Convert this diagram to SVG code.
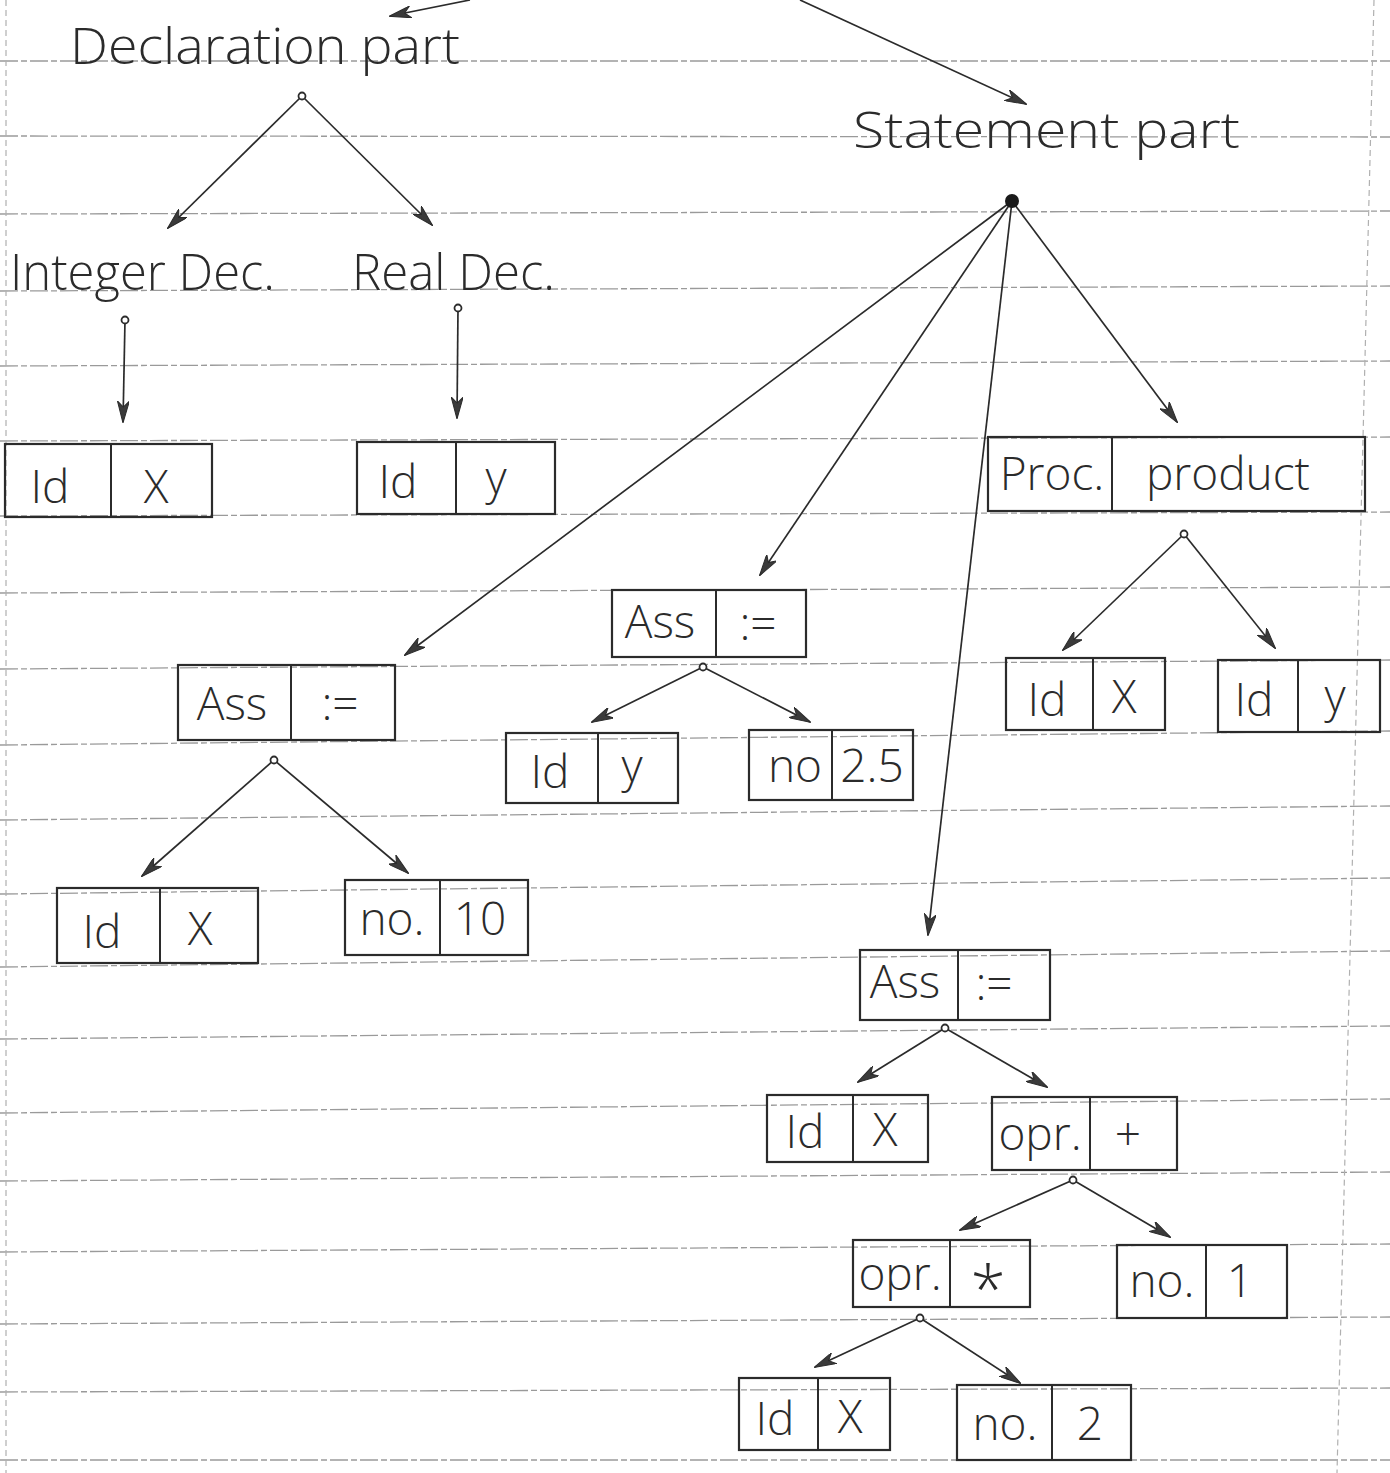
<svg xmlns="http://www.w3.org/2000/svg" width="1390" height="1473" viewBox="0 0 1390 1473">
<defs>
<style>
.rule{stroke:#9a9a9a;stroke-width:1.3;stroke-dasharray:18 3 6 3;fill:none}
.margin{stroke:#b0b0b0;stroke-width:1.2;stroke-dasharray:6 4;fill:none}
.box{fill:none;stroke:#2b2b2b;stroke-width:2.2}
.div{stroke:#2b2b2b;stroke-width:2}
.t{font-family:"Open Sans","Liberation Sans",sans-serif;font-weight:300;fill:#2b2b2b;font-size:46px;text-anchor:middle}
.big{font-family:"Open Sans","Liberation Sans",sans-serif;font-weight:300;fill:#2b2b2b;font-size:50px}
.e{stroke:#2b2b2b;stroke-width:1.7;fill:none;marker-end:url(#ah)}
.dot{fill:#fff;stroke:#2b2b2b;stroke-width:1.8}
</style>
<marker id="ah" viewBox="0 0 22 12" refX="21" refY="6" markerWidth="22" markerHeight="12" markerUnits="userSpaceOnUse" orient="auto">
<path d="M0,0 L22,6 L0,12 L6,6 Z" fill="#3a3a3a" stroke="#2b2b2b" stroke-width="1"/>
</marker>
</defs>
<rect width="1390" height="1473" fill="#ffffff"/>
<g id="paper">
<line class="rule" x1="0" y1="61" x2="1390" y2="61"/>
<line class="rule" x1="0" y1="136" x2="1390" y2="137"/>
<line class="rule" x1="0" y1="214" x2="1390" y2="211"/>
<line class="rule" x1="0" y1="291" x2="1390" y2="286"/>
<line class="rule" x1="0" y1="366" x2="1390" y2="361"/>
<line class="rule" x1="0" y1="441" x2="1390" y2="437"/>
<line class="rule" x1="0" y1="516" x2="1390" y2="512"/>
<line class="rule" x1="0" y1="593" x2="1390" y2="587"/>
<line class="rule" x1="0" y1="669" x2="1390" y2="660"/>
<line class="rule" x1="0" y1="745" x2="1390" y2="731"/>
<line class="rule" x1="0" y1="820" x2="1390" y2="806"/>
<line class="rule" x1="0" y1="894" x2="1390" y2="878"/>
<line class="rule" x1="0" y1="967" x2="1390" y2="951"/>
<line class="rule" x1="0" y1="1039" x2="1390" y2="1026"/>
<line class="rule" x1="0" y1="1113" x2="1390" y2="1099"/>
<line class="rule" x1="0" y1="1181" x2="1390" y2="1172"/>
<line class="rule" x1="0" y1="1252" x2="1390" y2="1244"/>
<line class="rule" x1="0" y1="1324" x2="1390" y2="1317"/>
<line class="rule" x1="0" y1="1392" x2="1390" y2="1388"/>
<line class="rule" x1="0" y1="1460" x2="1390" y2="1460"/>
<line class="margin" x1="6" y1="0" x2="6" y2="1473"/>
<line class="margin" x1="1374" y1="0" x2="1337" y2="1473"/>
</g>
<g id="connectors">
<line class="e" x1="470" y1="0" x2="390" y2="16"/>
<line class="e" x1="800" y1="0" x2="1026" y2="104"/>
<line class="e" x1="302" y1="96" x2="168" y2="228"/>
<line class="e" x1="302" y1="96" x2="432" y2="225"/>
<line class="e" x1="125" y1="320" x2="123" y2="422"/>
<line class="e" x1="458" y1="308" x2="457" y2="418"/>
<line class="e" x1="1012" y1="201" x2="405" y2="655"/>
<line class="e" x1="1012" y1="201" x2="760" y2="575"/>
<line class="e" x1="1012" y1="201" x2="928" y2="935"/>
<line class="e" x1="1012" y1="201" x2="1177" y2="422"/>
<line class="e" x1="1184" y1="534" x2="1063" y2="650"/>
<line class="e" x1="1184" y1="534" x2="1275" y2="648"/>
<line class="e" x1="274" y1="760" x2="142" y2="876"/>
<line class="e" x1="274" y1="760" x2="408" y2="873"/>
<line class="e" x1="703" y1="667" x2="592" y2="722"/>
<line class="e" x1="703" y1="667" x2="810" y2="722"/>
<line class="e" x1="945" y1="1028" x2="858" y2="1082"/>
<line class="e" x1="945" y1="1028" x2="1047" y2="1087"/>
<line class="e" x1="1073" y1="1180" x2="960" y2="1230"/>
<line class="e" x1="1073" y1="1180" x2="1170" y2="1237"/>
<line class="e" x1="920" y1="1318" x2="815" y2="1367"/>
<line class="e" x1="920" y1="1318" x2="1020" y2="1383"/>
<circle class="dot" cx="302" cy="96" r="3.5"/>
<circle class="dot" cx="125" cy="320" r="3.5"/>
<circle class="dot" cx="458" cy="308" r="3.5"/>
<circle cx="1012" cy="201" r="7" fill="#1a1a1a"/>
<circle class="dot" cx="1184" cy="534" r="3.5"/>
<circle class="dot" cx="274" cy="760" r="3.5"/>
<circle class="dot" cx="703" cy="667" r="3.5"/>
<circle class="dot" cx="945" cy="1028" r="3.5"/>
<circle class="dot" cx="1073" cy="1180" r="3.5"/>
<circle class="dot" cx="920" cy="1318" r="3.5"/>
</g>
<g id="declaration-part"><text class="big" x="70" y="64" textLength="390" lengthAdjust="spacingAndGlyphs">Declaration part</text></g>
<g id="statement-part"><text class="big" x="853" y="148" textLength="387" lengthAdjust="spacingAndGlyphs">Statement part</text></g>
<g id="integer-dec"><text class="big" x="10" y="290" textLength="265" lengthAdjust="spacingAndGlyphs">Integer Dec.</text></g>
<g id="real-dec"><text class="big" x="352" y="290" textLength="203" lengthAdjust="spacingAndGlyphs">Real Dec.</text></g>
<g id="id-x-1"><rect class="box" x="5" y="444" width="207" height="73"/><line class="div" x1="111" y1="444" x2="111" y2="517"/><text class="t" x="50" y="503">Id</text><text class="t" x="156" y="503">X</text></g>
<g id="id-y-1"><rect class="box" x="357" y="442" width="198" height="72"/><line class="div" x1="456" y1="442" x2="456" y2="514"/><text class="t" x="398" y="498">Id</text><text class="t" x="496" y="494">y</text></g>
<g id="proc-product"><rect class="box" x="988" y="437" width="377" height="74"/><line class="div" x1="1112" y1="437" x2="1112" y2="511"/><text class="t" x="1052" y="490">Proc.</text><text class="t" x="1228" y="490">product</text></g>
<g id="ass-1"><rect class="box" x="178" y="665" width="217" height="75"/><line class="div" x1="291" y1="665" x2="291" y2="740"/><text class="t" x="232" y="720">Ass</text><text class="t" x="340" y="720">:=</text></g>
<g id="id-x-2"><rect class="box" x="57" y="888" width="201" height="75"/><line class="div" x1="160" y1="888" x2="160" y2="963"/><text class="t" x="102" y="948">Id</text><text class="t" x="200" y="945">X</text></g>
<g id="no-10"><rect class="box" x="345" y="880" width="183" height="75"/><line class="div" x1="440" y1="880" x2="440" y2="955"/><text class="t" x="392" y="935">no.</text><text class="t" x="480" y="935">10</text></g>
<g id="ass-2"><rect class="box" x="612" y="590" width="194" height="67"/><line class="div" x1="716" y1="590" x2="716" y2="657"/><text class="t" x="660" y="638">Ass</text><text class="t" x="758" y="640">:=</text></g>
<g id="id-y-2"><rect class="box" x="506" y="733" width="172" height="70"/><line class="div" x1="598" y1="733" x2="598" y2="803"/><text class="t" x="550" y="788">Id</text><text class="t" x="632" y="782">y</text></g>
<g id="no-2-5"><rect class="box" x="749" y="730" width="164" height="70"/><line class="div" x1="832" y1="730" x2="832" y2="800"/><text class="t" x="795" y="782">no</text><text class="t" x="872" y="782">2.5</text></g>
<g id="id-x-3"><rect class="box" x="1006" y="658" width="159" height="72"/><line class="div" x1="1093" y1="658" x2="1093" y2="730"/><text class="t" x="1047" y="716">Id</text><text class="t" x="1124" y="713">X</text></g>
<g id="id-y-3"><rect class="box" x="1218" y="660" width="162" height="72"/><line class="div" x1="1298" y1="660" x2="1298" y2="732"/><text class="t" x="1254" y="716">Id</text><text class="t" x="1335" y="712">y</text></g>
<g id="ass-3"><rect class="box" x="860" y="950" width="190" height="70"/><line class="div" x1="958" y1="950" x2="958" y2="1020"/><text class="t" x="905" y="998">Ass</text><text class="t" x="994" y="1000">:=</text></g>
<g id="id-x-4"><rect class="box" x="767" y="1095" width="161" height="67"/><line class="div" x1="853" y1="1095" x2="853" y2="1162"/><text class="t" x="805" y="1148">Id</text><text class="t" x="885" y="1146">X</text></g>
<g id="opr-plus"><rect class="box" x="992" y="1097" width="185" height="73"/><line class="div" x1="1090" y1="1097" x2="1090" y2="1170"/><text class="t" x="1040" y="1150">opr.</text><text class="t" x="1128" y="1150">+</text></g>
<g id="opr-mul"><rect class="box" x="853" y="1240" width="177" height="67"/><line class="div" x1="950" y1="1240" x2="950" y2="1307"/><text class="t" x="900" y="1290">opr.</text><text class="t" x="988" y="1312" style="font-size:64px">*</text></g>
<g id="no-1"><rect class="box" x="1117" y="1245" width="170" height="73"/><line class="div" x1="1206" y1="1245" x2="1206" y2="1318"/><text class="t" x="1162" y="1297">no.</text><text class="t" x="1240" y="1297">1</text></g>
<g id="id-x-5"><rect class="box" x="739" y="1378" width="151" height="72"/><line class="div" x1="818" y1="1378" x2="818" y2="1450"/><text class="t" x="775" y="1435">Id</text><text class="t" x="850" y="1433">X</text></g>
<g id="no-2"><rect class="box" x="957" y="1385" width="174" height="75"/><line class="div" x1="1052" y1="1385" x2="1052" y2="1460"/><text class="t" x="1005" y="1440">no.</text><text class="t" x="1090" y="1440">2</text></g>
</svg>
